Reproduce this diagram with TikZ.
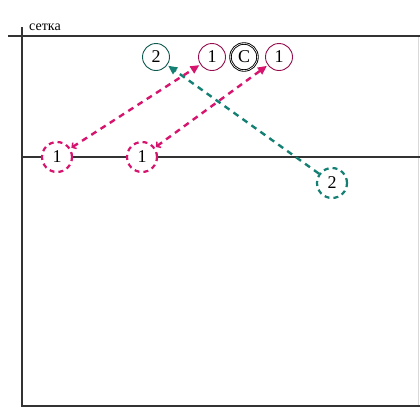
\documentclass[tikz,border=0pt]{standalone}
\usepackage{fontspec}
\setmainfont{Liberation Serif}
\usetikzlibrary{arrows.meta}
\definecolor{mag}{RGB}{214,20,110}
\definecolor{tea}{RGB}{20,128,115}
\tikzset{
  grid/.style={draw=black!80, line width=1.2pt},
  topc/.style={circle, draw, fill=white, line width=0.9pt, minimum size=27pt, inner sep=0pt, font=\fontsize{18}{18}\selectfont},
  dashc/.style={circle, draw, fill=white, line width=2.2pt, dash pattern=on 5pt off 4pt, minimum size=30pt, inner sep=0pt, font=\fontsize{18}{18}\selectfont},
  link/.style={line width=2.4pt, dash pattern=on 6pt off 5pt, {Straight Barb[length=3pt,width=7pt,line width=1.5pt]}-{Stealth[length=9pt,width=8pt,inset=0pt]}, shorten <=1pt, shorten >=1pt},
  tlink/.style={line width=2.4pt, dash pattern=on 6pt off 5pt, -{Stealth[length=9pt,width=8pt,inset=0pt]}, shorten >=1pt}
}
\begin{document}
\begin{tikzpicture}[x=1pt,y=-1pt]
\useasboundingbox (0,0) rectangle (420,408);
\fill[white] (0,0) rectangle (420,408);
% grid lines
\coordinate (tl) at (8,36);
\coordinate (tr) at (420,36);
\coordinate (vt) at (22,27);
\coordinate (vb) at (22,407);
\coordinate (ml) at (22,157);
\coordinate (mr) at (420,157);
\coordinate (bl) at (22,406);
\coordinate (br) at (420,406);
\coordinate (rt) at (418,36);
\coordinate (rb) at (418,406);
\draw[black!15, line width=0.8pt] (rt) -- (rb);
\draw[grid] (tl) -- (tr);
\draw[grid] (vt) -- (vb);
\draw[grid] (ml) -- (mr);
\draw[black!80, line width=2pt] (bl) -- (br);
\node[anchor=base west, inner sep=0pt, font=\fontsize{14}{14}\selectfont] (lbl) at (29,30) {сетка};
% top circles
\node[topc, draw=tea!70!black] (t2) at (156,57) {2};
\node[topc, draw=mag!70!black] (t1a) at (212,57) {1};
\node[topc, draw=black, double, double distance=0.6pt] (tc) at (244,57) {C};
\node[topc, draw=mag!70!black] (t1b) at (279,57) {1};
% bottom dashed circles
\node[dashc, draw=mag] (b1a) at (57,157) {1};
\node[dashc, draw=mag] (b1b) at (142,157) {1};
\node[dashc, draw=tea] (b2) at (332,183) {2};
% connectors
\draw[link, mag] (b1a) -- (t1a);
\draw[link, mag] (b1b) -- (t1b);
\draw[tlink, tea] (b2) -- (t2);
\end{tikzpicture}
\end{document}
